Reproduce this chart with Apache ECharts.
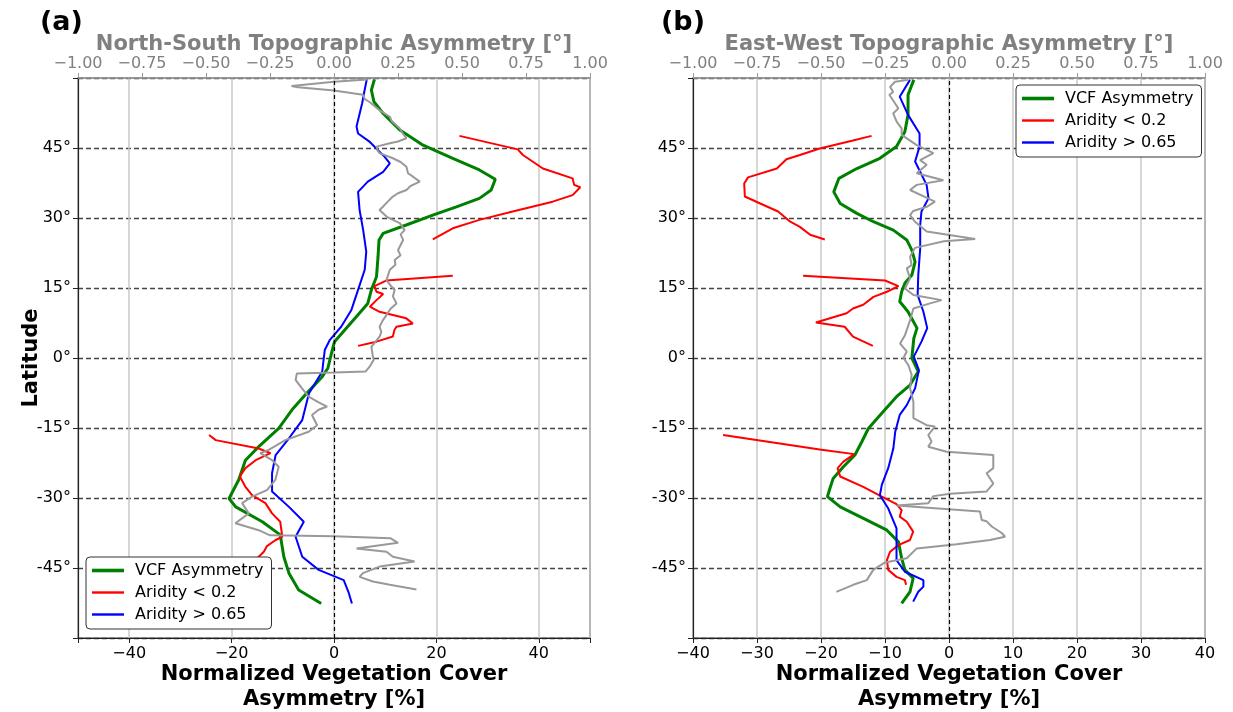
<!DOCTYPE html>
<html>
<head>
<meta charset="utf-8">
<title>Vegetation cover asymmetry</title>
<script src="https://cdn.jsdelivr.net/npm/echarts@6/dist/echarts.min.js"></script>
<style>
  html, body { margin: 0; padding: 0; background: #fff; }
  #chart { width: 1233px; height: 712px; }
</style>
</head>
<body>
<div id="chart"></div>
<script>
// ---- data, [value, latitude] ----
// (a) north-south
const vcfNs = [[7.9,59.7],[7.3,57.4],[7.8,54.9],[9.6,52.4],[12.8,48.9],[17.4,45.6],[23.2,42.8],[28.4,40.3],[31.5,38.3],[30.7,36.0],[28.4,34.2],[23.9,32.4],[19.3,30.6],[14.1,28.5],[9.6,26.7],[8.8,25.3],[8.6,21.7],[8.3,17.4],[7.3,14.6],[6.6,11.7],[4.4,8.9],[2.1,6.0],[0.1,3.5],[-0.5,1.0],[-1.2,-2.2],[-2.3,-4.0],[-5.6,-7.9],[-8.2,-11.1],[-10.8,-15.1],[-14.7,-19.0],[-17.3,-21.9],[-18.6,-26.1],[-20.5,-30.1],[-19.2,-31.9],[-14.0,-35.1],[-10.5,-37.9],[-9.8,-42.6],[-8.8,-46.1],[-6.9,-49.7],[-2.5,-52.6]];
const humidNs = [[6.4,59.7],[5.8,56.4],[5.5,54.6],[4.4,49.6],[4.7,48.1],[7.0,46.3],[9.9,43.1],[10.9,41.7],[9.6,39.9],[6.6,37.8],[4.7,35.6],[5.0,31.7],[5.7,27.4],[6.3,22.8],[6.0,18.9],[4.7,14.6],[3.4,10.3],[1.4,6.7],[-0.8,3.9],[-1.8,1.7],[-2.1,-1.0],[-2.3,-2.9],[-4.9,-7.6],[-6.2,-13.3],[-8.8,-17.2],[-11.4,-20.8],[-12.1,-24.7],[-12.1,-28.6],[-8.8,-31.9],[-5.9,-35.1],[-7.5,-38.3],[-6.2,-42.6],[-3.0,-45.4],[1.9,-47.6],[2.9,-50.4],[3.5,-52.6]];
const aridNs1 = [[24.5,47.6],[35.9,44.7],[36.9,43.5],[40.8,40.6],[46.6,38.5],[46.9,37.1],[48.1,36.6],[46.6,34.9],[42.7,33.5],[34.9,31.4],[28.4,29.6],[23.2,27.8],[19.3,25.4]];
const aridNs2 = [[23.2,17.6],[10.2,16.6],[7.9,15.4],[8.3,14.2],[9.6,13.7],[8.3,12.4],[7.0,11.0],[8.9,9.9],[14.1,8.5],[15.4,7.4],[12.2,6.7],[11.8,6.0],[11.5,4.6],[8.3,3.5],[4.7,2.6]];
const aridNs3 = [[-24.4,-16.5],[-23.1,-17.6],[-14.7,-19.4],[-12.4,-20.4],[-15.3,-21.9],[-17.3,-23.6],[-18.4,-25.4],[-17.3,-27.6],[-16.0,-29.4],[-13.4,-31.1],[-12.1,-33.3],[-10.5,-35.1],[-10.1,-38.3],[-11.4,-39.0],[-13.1,-40.3],[-13.7,-41.5],[-15.0,-42.9],[-16.0,-44.5]];
// topographic asymmetry in degrees (top axis)
const topoNs = [[0.129,59.7],[0.0,59.2],[-0.166,58.3],[-0.14,58.0],[0.0,57.3],[0.113,56.4],[0.12,55.5],[0.14,54.8],[0.178,53.1],[0.20,52.3],[0.218,51.7],[0.225,50.8],[0.257,49.2],[0.27,48.0],[0.283,47.1],[0.25,46.4],[0.218,46.0],[0.166,45.3],[0.17,44.5],[0.178,43.9],[0.230,42.8],[0.26,42.0],[0.283,41.0],[0.289,39.6],[0.31,38.8],[0.335,37.8],[0.30,36.9],[0.283,36.0],[0.25,35.3],[0.230,34.6],[0.21,33.5],[0.191,32.4],[0.178,31.7],[0.205,30.3],[0.23,29.6],[0.257,28.9],[0.276,27.4],[0.26,26.5],[0.270,25.3],[0.25,23.1],[0.26,22.0],[0.237,21.0],[0.24,20.0],[0.218,18.9],[0.205,16.7],[0.22,15.6],[0.237,14.6],[0.23,13.2],[0.244,11.7],[0.22,10.5],[0.205,9.2],[0.19,8.0],[0.178,6.7],[0.185,5.6],[0.178,4.6],[0.146,2.4],[0.152,0.3],[0.155,-0.4],[0.14,-1.8],[0.123,-2.9],[0.0,-3.1],[-0.145,-3.3],[-0.15,-4.7],[-0.125,-6.5],[-0.099,-8.3],[-0.06,-9.5],[-0.027,-10.4],[-0.06,-11.1],[-0.086,-12.2],[-0.066,-14.4],[-0.099,-15.8],[-0.190,-17.6],[-0.255,-19.7],[-0.288,-20.4],[-0.242,-21.9],[-0.216,-23.3],[-0.229,-26.1],[-0.262,-28.3],[-0.320,-29.7],[-0.359,-31.1],[-0.333,-33.3],[-0.385,-35.4],[-0.294,-36.9],[-0.25,-38.0],[0.0,-38.2],[0.22,-38.6],[0.25,-39.6],[0.088,-40.8],[0.205,-41.5],[0.23,-42.6],[0.315,-43.6],[0.178,-44.7],[0.113,-46.1],[0.100,-46.9],[0.152,-47.9],[0.218,-48.6],[0.322,-49.6]];

// (b) east-west
const vcfEw = [[-5.5,59.6],[-6.4,56.4],[-6.4,52.1],[-6.9,48.5],[-8.2,45.3],[-10.8,42.8],[-14.4,40.6],[-17.2,38.5],[-18.0,35.6],[-17.0,33.1],[-14.4,31.0],[-11.8,29.2],[-8.7,27.4],[-6.6,25.3],[-5.8,23.1],[-5.3,20.6],[-5.8,17.8],[-6.9,16.0],[-7.4,14.2],[-7.7,12.1],[-6.4,9.9],[-5.0,6.4],[-5.5,4.2],[-5.8,0],[-4.8,-2.9],[-6.1,-5.8],[-8.2,-8.3],[-10.3,-11.5],[-12.6,-15.1],[-13.6,-17.9],[-14.7,-20.8],[-16.5,-23.3],[-18.1,-25.8],[-18.6,-27.9],[-19.0,-29.7],[-17.0,-31.9],[-12.9,-34.7],[-9.7,-36.9],[-7.9,-39.4],[-7.4,-42.9],[-6.9,-45.4],[-5.6,-47.2],[-6.1,-50.1],[-7.4,-52.6]];
const humidEw = [[-6.1,59.6],[-7.7,56.0],[-6.4,52.1],[-4.6,48.1],[-4.6,45.3],[-5.3,42.1],[-3.5,37.1],[-3.2,34.2],[-4.3,31.4],[-4.5,28.5],[-4.5,23.5],[-4.8,17.8],[-4.9,13.5],[-4.0,9.9],[-3.4,6.4],[-4.3,3.5],[-5.5,0.3],[-4.7,-2.6],[-5.3,-6.5],[-6.6,-10.1],[-7.7,-12.2],[-8.4,-15.8],[-8.7,-19.4],[-9.5,-23.6],[-10.5,-27.2],[-10.8,-29.4],[-9.5,-32.2],[-8.2,-36.5],[-8.2,-40.8],[-8.2,-43.3],[-6.9,-45.8],[-4.0,-47.6],[-4.0,-49.0],[-4.8,-50.1],[-5.6,-52.2]];
const aridEw1 = [[-12.1,47.6],[-15.0,46.6],[-20.2,44.9],[-23.3,43.5],[-25.4,42.6],[-26.9,40.6],[-31.4,38.7],[-32.0,37.4],[-31.9,34.6],[-29.5,33.1],[-26.7,31.4],[-24.8,29.2],[-23.3,28.1],[-21.7,26.4],[-19.4,25.4]];
const aridEw2 = [[-22.8,17.6],[-10.0,16.6],[-7.9,15.4],[-9.7,14.2],[-11.8,13.1],[-13.4,11.4],[-15.0,10.6],[-16.0,9.6],[-20.8,7.6],[-16.3,6.7],[-15.0,4.6],[-11.9,2.6]];
const aridEw3 = [[-35.3,-16.5],[-20.2,-19.6],[-14.8,-20.6],[-16.5,-22.2],[-17.4,-23.6],[-17.0,-25.4],[-13.4,-27.6],[-10.5,-29.7],[-8.2,-31.3],[-7.4,-32.6],[-7.7,-34.0],[-6.6,-35.1],[-5.6,-37.2],[-6.1,-39.0],[-7.9,-40.1],[-9.2,-41.5],[-9.7,-43.3],[-9.5,-45.4],[-8.2,-46.9],[-6.9,-47.6],[-6.7,-48.6]];
const topoEw = [[-0.159,59.6],[-0.211,59.2],[-0.230,58.1],[-0.218,57.0],[-0.233,56.4],[-0.211,54.6],[-0.198,53.5],[-0.218,52.4],[-0.204,50.6],[-0.185,49.2],[-0.185,47.8],[-0.126,45.6],[-0.061,43.9],[-0.113,42.4],[-0.087,41.4],[-0.126,39.6],[-0.022,38.1],[-0.126,37.1],[-0.152,36.0],[-0.055,33.5],[-0.087,32.4],[-0.14,31.5],[-0.152,30.6],[-0.133,29.2],[-0.087,27.1],[0.102,25.5],[-0.02,25.0],[-0.133,23.6],[-0.152,21.7],[-0.146,19.9],[-0.165,19.2],[-0.152,17.1],[-0.172,14.9],[-0.139,13.5],[-0.029,12.4],[-0.074,11.7],[-0.139,10.6],[-0.152,8.1],[-0.172,4.9],[-0.191,3.1],[-0.165,1.4],[-0.178,0],[-0.159,-1.5],[-0.146,-3.6],[-0.152,-6.5],[-0.139,-9.4],[-0.139,-12.9],[-0.087,-14.4],[-0.055,-14.7],[-0.081,-16.5],[-0.068,-17.9],[-0.081,-19.0],[-0.009,-20.1],[0.173,-20.8],[0.173,-23.6],[0.147,-24.7],[0.173,-26.9],[0.147,-28.6],[0.004,-29.1],[-0.061,-29.6],[-0.081,-31.1],[-0.204,-31.6],[0.121,-32.9],[0.128,-34.7],[0.147,-35.0],[0.167,-36.1],[0.206,-37.5],[0.219,-38.3],[0.160,-39.0],[0.030,-39.9],[-0.126,-40.8],[-0.165,-42.9],[-0.25,-43.8],[-0.296,-45.4],[-0.321,-47.6],[-0.374,-48.6],[-0.44,-50.1]];

const latTicks = [-45, -30, -15, 0, 15, 30, 45];
const names = ['VCF Asymmetry', 'Aridity < 0.2', 'Aridity > 0.65'];

// ---- chart ----
const FONT = 'DejaVu Sans';
const chart = echarts.init(document.getElementById('chart'));

function withGaps(segs) {
  let out = [];
  segs.forEach((s, i) => {
    if (i > 0) out.push(['-', '-']);
    out = out.concat(s);
  });
  return out;
}
function minus(s) {
  return String(s).replace('-', '\u2212');
}

function bottomAxis(grid, min, max, interval) {
  const ax = {
    type: 'value', gridIndex: grid, position: 'bottom', min: min, max: max,
    axisLine: { show: true, onZero: false, lineStyle: { color: '#222', width: 1.2 } },
    axisTick: { show: true, length: 5, lineStyle: { color: '#222' } },
    axisLabel: {
      fontFamily: FONT, fontSize: 16, color: '#000', margin: 8,
      formatter: v => (Math.abs(v) === 50 ? '' : minus(v))
    },
    splitLine: { show: true, lineStyle: { color: '#c8c8c8', width: 1.5 } },
    name: 'Normalized Vegetation Cover\nAsymmetry [%]',
    nameLocation: 'middle', nameGap: 24, nameMoveOverlap: false,
    nameTextStyle: { fontFamily: FONT, fontWeight: 'bold', fontSize: 21, lineHeight: 25, color: '#000' }
  };
  if (interval) ax.interval = interval; else ax.splitNumber = 5;
  return ax;
}
function topAxis(grid, title) {
  return {
    type: 'value', gridIndex: grid, position: 'top', min: -1, max: 1, interval: 0.25,
    axisLine: { show: true, onZero: false, lineStyle: { color: '#999', width: 1.5 } },
    axisTick: { show: true, length: 5, lineStyle: { color: '#999' } },
    axisLabel: { fontFamily: FONT, fontSize: 16, color: '#808080', margin: 6, formatter: v => minus(v.toFixed(2)) },
    splitLine: { show: false },
    name: title, nameLocation: 'middle', nameGap: 23, nameMoveOverlap: false,
    nameTextStyle: { fontFamily: FONT, fontWeight: 'bold', fontSize: 21, color: '#808080' }
  };
}
function latAxis(grid, withName) {
  return {
    type: 'value', gridIndex: grid, min: -60, max: 60, interval: 15,
    axisLine: { show: true, onZero: false, lineStyle: { color: '#222', width: 1.2 } },
    axisTick: { show: true, length: 5, lineStyle: { color: '#222' } },
    axisLabel: {
      fontFamily: FONT, fontSize: 16, color: '#000', margin: 7,
      formatter: v => (latTicks.indexOf(v) >= 0 ? v + '°' : '')
    },
    splitLine: { show: true, lineStyle: { color: '#444', type: [5, 3], width: 1.3 } },
    name: withName ? 'Latitude' : '',
    nameLocation: 'middle', nameGap: 36, nameRotate: 90, nameMoveOverlap: false,
    nameTextStyle: { fontFamily: FONT, fontWeight: 'bold', fontSize: 21, color: '#000' }
  };
}
function line(name, data, xi, yi, color, width, extra) {
  return Object.assign({
    name: name, type: 'line', data: data, xAxisIndex: xi, yAxisIndex: yi,
    showSymbol: false, symbol: 'none', connectNulls: false, animation: false,
    lineStyle: { color: color, width: width }, itemStyle: { color: color }
  }, extra || {});
}
const zeroLine = {
  silent: true, symbol: 'none', label: { show: false },
  lineStyle: { color: '#000', type: [4, 3], width: 1.2 },
  data: [{ xAxis: 0 }]
};
// legend keys are plain line strokes
const legendKeys = [
  { name: names[0], icon: 'path://M0,0H32V3.6H0Z' },
  { name: names[1], icon: 'path://M0,0H32V2.4H0Z' },
  { name: names[2], icon: 'path://M0,0H32V2.4H0Z' }
];
function legendAt(left, top) {
  return {
    data: legendKeys, orient: 'vertical', left: left, top: top,
    backgroundColor: '#fff', borderColor: '#333', borderWidth: 1, borderRadius: 4,
    padding: [5, 8, 6, 6], itemGap: 5, itemWidth: 32, itemHeight: 14,
    textStyle: { fontFamily: FONT, fontSize: 16, color: '#000', lineHeight: 17, padding: [0, 0, 0, 6] }
  };
}

const gridBase = { width: 512, height: 560, top: 78, show: true, borderColor: '#333', borderWidth: 1.2,
  backgroundColor: 'transparent', outerBoundsMode: 'none', containLabel: false };

const option = {
  backgroundColor: '#fff',
  textStyle: { fontFamily: FONT },
  title: [
    { text: '(a)', left: 35, top: 4, textStyle: { fontFamily: FONT, fontSize: 27, fontWeight: 'bold', color: '#000' } },
    { text: '(b)', left: 656, top: 4, textStyle: { fontFamily: FONT, fontSize: 27, fontWeight: 'bold', color: '#000' } }
  ],
  grid: [
    Object.assign({ left: 78 }, gridBase),
    Object.assign({ left: 693 }, gridBase)
  ],
  xAxis: [
    bottomAxis(0, -50, 50, null),
    topAxis(0, 'North-South Topographic Asymmetry [°]'),
    bottomAxis(1, -40, 40, 10),
    topAxis(1, 'East-West Topographic Asymmetry [°]')
  ],
  yAxis: [latAxis(0, true), latAxis(1, false)],
  legend: [legendAt(86, 557), legendAt(1016, 85)],
  series: [
    line(names[0], vcfNs, 0, 0, '#008000', 3, { markLine: zeroLine }),
    line(names[1], withGaps([aridNs1, aridNs2, aridNs3]), 0, 0, '#ff0000', 2),
    line(names[2], humidNs, 0, 0, '#0000ff', 2),
    line('NS topography', topoNs, 1, 0, '#999999', 2),
    line(names[0], vcfEw, 2, 1, '#008000', 3, { markLine: zeroLine }),
    line(names[1], withGaps([aridEw1, aridEw2, aridEw3]), 2, 1, '#ff0000', 2),
    line(names[2], humidEw, 2, 1, '#0000ff', 2),
    line('EW topography', topoEw, 3, 1, '#999999', 2)
  ]
};
chart.setOption(option);
</script>
</body>
</html>
